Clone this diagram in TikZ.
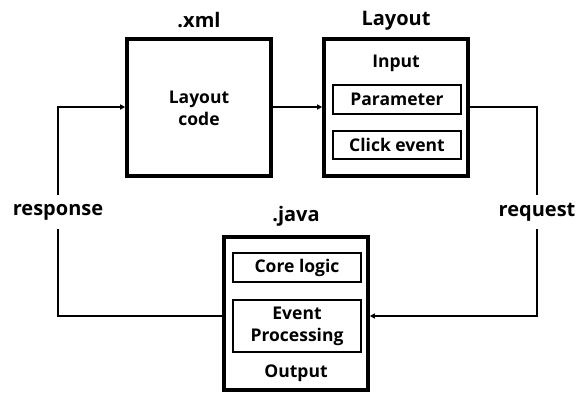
\documentclass[tikz,border=0pt]{standalone}
\usepackage{fontspec}
\setmainfont{Open Sans}
\usetikzlibrary{arrows.meta}
\tikzset{
  outerbox/.style={draw, line width=3.6pt, minimum width=144pt, inner sep=0pt},
  innerbox/.style={draw, line width=1.8pt, minimum width=128pt, inner sep=0pt, font=\fontsize{17.5}{19}\selectfont\bfseries, align=center},
  title/.style={font=\fontsize{20}{22}\selectfont\bfseries, inner sep=0pt},
  plain/.style={font=\fontsize{17.5}{19}\selectfont\bfseries, inner sep=0pt, align=center},
  flowlabel/.style={font=\fontsize{20}{22}\selectfont\bfseries, inner sep=0pt, minimum height=34pt},
  wire/.style={line width=1.6pt},
  tip/.style={-{Triangle[length=5pt,width=5pt]}}
}
\begin{document}
\begin{tikzpicture}[x=1pt,y=-1pt]
\useasboundingbox (0,0) rectangle (576,394);

% main boxes
\node[outerbox, minimum height=137pt] (xml) at (199,107.5) {};
\node[outerbox, minimum height=137pt] (lay) at (396,107.5) {};
\node[outerbox, minimum height=153pt] (java) at (296,313.5) {};

% titles above the boxes
\node[title] (txml) at (199,20.5) {.xml};
\node[title] (tlay) at (396,20.5) {Layout};
\node[title] (tjava) at (296,216) {.java};

% contents of the .xml box
\node[plain, font=\fontsize{17.5}{22}\selectfont\bfseries] (code) at (199,108) {Layout\\code};

% contents of the Layout box
\node[plain] (inp) at (396,63) {Input};
\node[innerbox, minimum height=29pt] (par) at (397,99.5) {Parameter};
\node[innerbox, minimum height=28pt] (clk) at (397,145) {Click event};

% contents of the .java box
\node[innerbox, minimum height=29pt] (core) at (297,267.5) {Core logic};
\node[innerbox, minimum height=52pt, font=\fontsize{17.5}{22}\selectfont\bfseries] (evp) at (297,326) {Event\\Processing};
\node[plain] (outp) at (296,373) {Output};

% flow labels
\node[flowlabel] (resp) at (58,212) {response};
\node[flowlabel] (req) at (537,212) {request};

% connectors
\coordinate (ytop) at (0,107);
\coordinate (ybot) at (0,316);
\draw[wire, tip] (xml.east |- ytop) -- (lay.west |- ytop);
\draw[wire] (lay.east |- ytop) -| (req.north);
\draw[wire, tip] (req.south) |- (java.east |- ybot);
\draw[wire] (java.west |- ybot) -| (resp.south);
\draw[wire, tip] (resp.north) |- (xml.west |- ytop);
\end{tikzpicture}
\end{document}
